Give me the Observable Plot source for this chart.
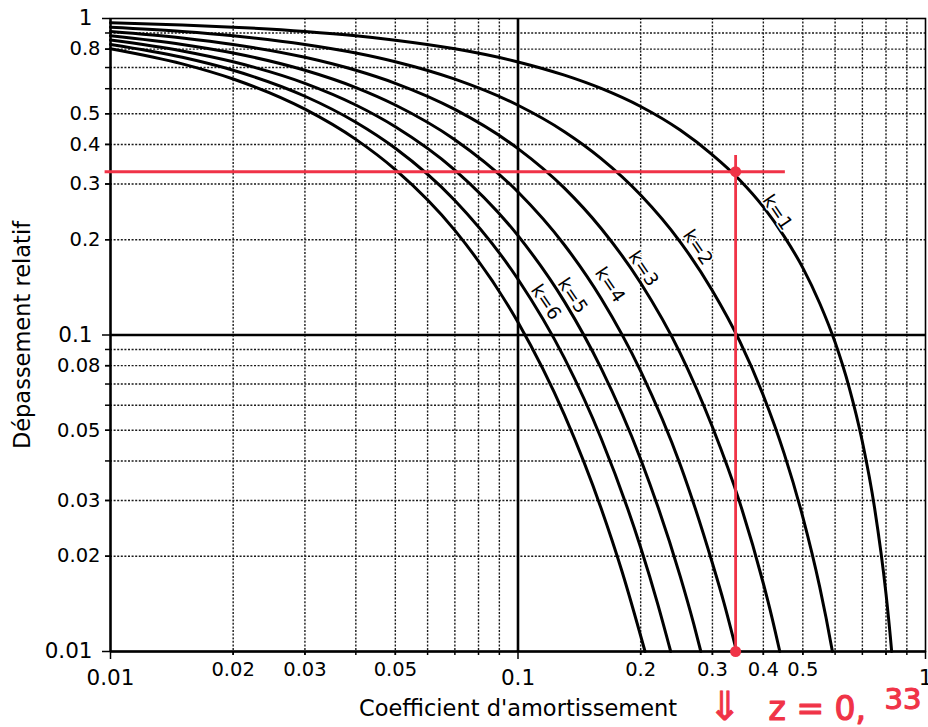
<!DOCTYPE html>
<html><head><meta charset="utf-8">
<script src="https://cdn.jsdelivr.net/npm/d3@7"></script>
<script src="https://cdn.jsdelivr.net/npm/@observablehq/plot@0.6"></script>
<style>body{margin:0;background:#fff} svg{font-family:"DejaVu Sans",sans-serif}</style>
</head><body><div id="chart"></div>
<script>
// Curves: relative overshoot vs damping coefficient, [xi, D] pairs
const curveK1 = [[0.01,0.969],[0.015,0.954],[0.02,0.939],[0.03,0.910],[0.04,0.882],[0.05,0.854],[0.07,0.802],[0.1,0.729],[0.13,0.662],[0.16,0.601],[0.2,0.527],[0.25,0.444],[0.3,0.371],[0.35,0.309],[0.4,0.254],[0.45,0.205],[0.5,0.163],[0.55,0.126],[0.6,0.0948],[0.65,0.0681],[0.7,0.0460],[0.75,0.0284],[0.8,0.0152],[0.82,0.0111],[0.826,0.01]];
const curveK2 = [[0.01,0.939],[0.015,0.910],[0.02,0.882],[0.03,0.828],[0.04,0.778],[0.05,0.730],[0.07,0.643],[0.1,0.532],[0.13,0.439],[0.16,0.361],[0.2,0.277],[0.25,0.197],[0.3,0.138],[0.35,0.0956],[0.4,0.0644],[0.45,0.0422],[0.5,0.0266],[0.55,0.0160],[0.57,0.0128],[0.591,0.01]];
const curveK3 = [[0.01,0.910],[0.015,0.868],[0.02,0.828],[0.03,0.754],[0.04,0.686],[0.05,0.624],[0.07,0.516],[0.1,0.388],[0.13,0.291],[0.16,0.217],[0.2,0.146],[0.25,0.0877],[0.3,0.0512],[0.35,0.0296],[0.4,0.0164],[0.42,0.0128],[0.439,0.01]];
const curveK4 = [[0.01,0.882],[0.015,0.828],[0.02,0.778],[0.03,0.686],[0.04,0.605],[0.05,0.533],[0.07,0.414],[0.1,0.283],[0.13,0.1925],[0.16,0.1304],[0.2,0.0769],[0.25,0.0390],[0.3,0.0190],[0.32,0.0143],[0.344,0.01]];
const curveK5 = [[0.01,0.855],[0.015,0.790],[0.02,0.730],[0.03,0.624],[0.04,0.533],[0.05,0.455],[0.07,0.332],[0.1,0.206],[0.13,0.1275],[0.16,0.0784],[0.2,0.0405],[0.25,0.0173],[0.27,0.0122],[0.281,0.01]];
const curveK6 = [[0.01,0.828],[0.015,0.754],[0.02,0.686],[0.03,0.568],[0.04,0.470],[0.05,0.389],[0.07,0.266],[0.1,0.150],[0.13,0.0845],[0.16,0.0471],[0.2,0.0213],[0.22,0.0142],[0.237,0.01]];
const curveK7 = [[0.01,0.803],[0.015,0.719],[0.02,0.644],[0.03,0.517],[0.04,0.415],[0.05,0.333],[0.07,0.214],[0.1,0.1097],[0.13,0.0559],[0.16,0.0283],[0.18,0.0179],[0.205,0.01]];
const kValues = [1,2,3,4,5,6,7];

// Curve labels
const labelText = ["k=1","k=2","k=3","k=4","k=5","k=6"];
const labelXi = [0.433,0.276,0.203,0.168,0.136,0.117];
const labelD  = [0.244,0.189,0.162,0.144,0.133,0.127];

// Ticks / grid
const gridValues = [0.02,0.03,0.04,0.05,0.06,0.07,0.08,0.09,0.2,0.3,0.4,0.5,0.6,0.7,0.8,0.9];
const xMinorLabels = [0.02,0.03,0.05,0.2,0.3,0.4,0.5,0.8];
const yMinorLabels = [0.02,0.03,0.05,0.08,0.2,0.3,0.4,0.5,0.8];
const majorLabels = [0.01,0.1,1];
const majorLines = [0.1];

// Red hand annotation
const redXi = 0.342, redD = 0.328, redTop = 0.369, redLeft = 0.0097, redRight = 0.453;
const redText = ["⇓", "z = 0,", "33"];
const RED = "#f03347";

const curves = [curveK1,curveK2,curveK3,curveK4,curveK5,curveK6,curveK7];
const rows = curves.flatMap((pts,i)=>pts.map(([xi,d])=>({k:kValues[i], xi, d})));
const labels = labelText.map((t,i)=>({t, xi:labelXi[i], d:labelD[i]}));

const gridStyle = {stroke:"#1a1a1a", strokeWidth:1.4, strokeDasharray:"2,1.6"};
const fmt = d => String(d);

const plot = Plot.plot({
  width: 928, height: 727,
  marginLeft: 110, marginRight: 3, marginTop: 18, marginBottom: 76,
  x: {type:"log", domain:[0.01,1]},
  y: {type:"log", domain:[0.01,1]},
  style: {fontFamily:"DejaVu Sans", background:"white", color:"black"},
  marks: [
    Plot.ruleX(gridValues, gridStyle),
    Plot.ruleY(gridValues, gridStyle),
    Plot.ruleX(majorLines, {stroke:"black", strokeWidth:2.6}),
    Plot.ruleY(majorLines, {stroke:"black", strokeWidth:2.6}),
    Plot.line(rows, {x:"xi", y:"d", z:"k", stroke:"black", strokeWidth:3, curve:"monotone-x"}),
    Plot.text(labels, {x:"xi", y:"d", text:"t", rotate:56, fontSize:18.5, fill:"black", stroke:"white", strokeWidth:3}),
    Plot.frame({stroke:"black", strokeWidth:1.6}),
    Plot.ruleX([0.01], {stroke:"black", strokeWidth:2.4}),
    Plot.ruleY([0.01], {stroke:"black", strokeWidth:2.4}),
    Plot.axisX(gridValues, {tickSize:4, tickFormat:()=>"", label:null, strokeWidth:1.5}),
    Plot.axisX(xMinorLabels, {tickSize:4, tickPadding:7, fontSize:19.5, tickFormat:fmt, label:null, strokeWidth:1.5}),
    Plot.axisX(majorLabels, {tickSize:8, tickPadding:10, fontSize:21.5, tickFormat:fmt, label:null, strokeWidth:1.5}),
    Plot.axisY(gridValues, {tickSize:5, tickFormat:()=>"", label:null, strokeWidth:1.5}),
    Plot.axisY(yMinorLabels, {tickSize:5, tickPadding:5, fontSize:19.5, tickFormat:fmt, label:null, strokeWidth:1.5}),
    Plot.axisY(majorLabels, {tickSize:8, tickPadding:10, fontSize:21.5, tickFormat:fmt, label:null, strokeWidth:1.5}),
    Plot.text(["Coefficient d'amortissement"], {frameAnchor:"bottom", textAnchor:"middle", lineAnchor:"middle", dy:57, fontSize:22.5, fill:"black"}),
    Plot.text(["Dépassement relatif"], {frameAnchor:"left", textAnchor:"middle", lineAnchor:"middle", rotate:-90, dx:-88, fontSize:22.5, fill:"black"}),
    // red annotation
    Plot.ruleY([redD], {x1:redLeft, x2:redRight, stroke:RED, strokeWidth:2.8}),
    Plot.ruleX([redXi], {y1:0.01, y2:redTop, stroke:RED, strokeWidth:2.8}),
    Plot.dot([[redXi,redD],[redXi,0.01]], {x:d=>d[0], y:d=>d[1], r:5.5, fill:RED}),
    Plot.text([redXi], {x:d=>d, y:()=>0.01, text:()=>redText[0], dx:-11, dy:56, fontSize:40, fill:RED, stroke:RED, strokeWidth:0.8}),
    Plot.text([redXi], {x:d=>d, y:()=>0.01, text:()=>redText[1], textAnchor:"start", dx:33, dy:58, fontSize:33, fill:RED, stroke:RED, strokeWidth:1.2}),
    Plot.text([redXi], {x:d=>d, y:()=>0.01, text:()=>redText[2], textAnchor:"start", dx:149, dy:48, fontSize:29, fill:RED, stroke:RED, strokeWidth:1.2})
  ]
});
document.getElementById("chart").appendChild(plot);
</script>
</body></html>
